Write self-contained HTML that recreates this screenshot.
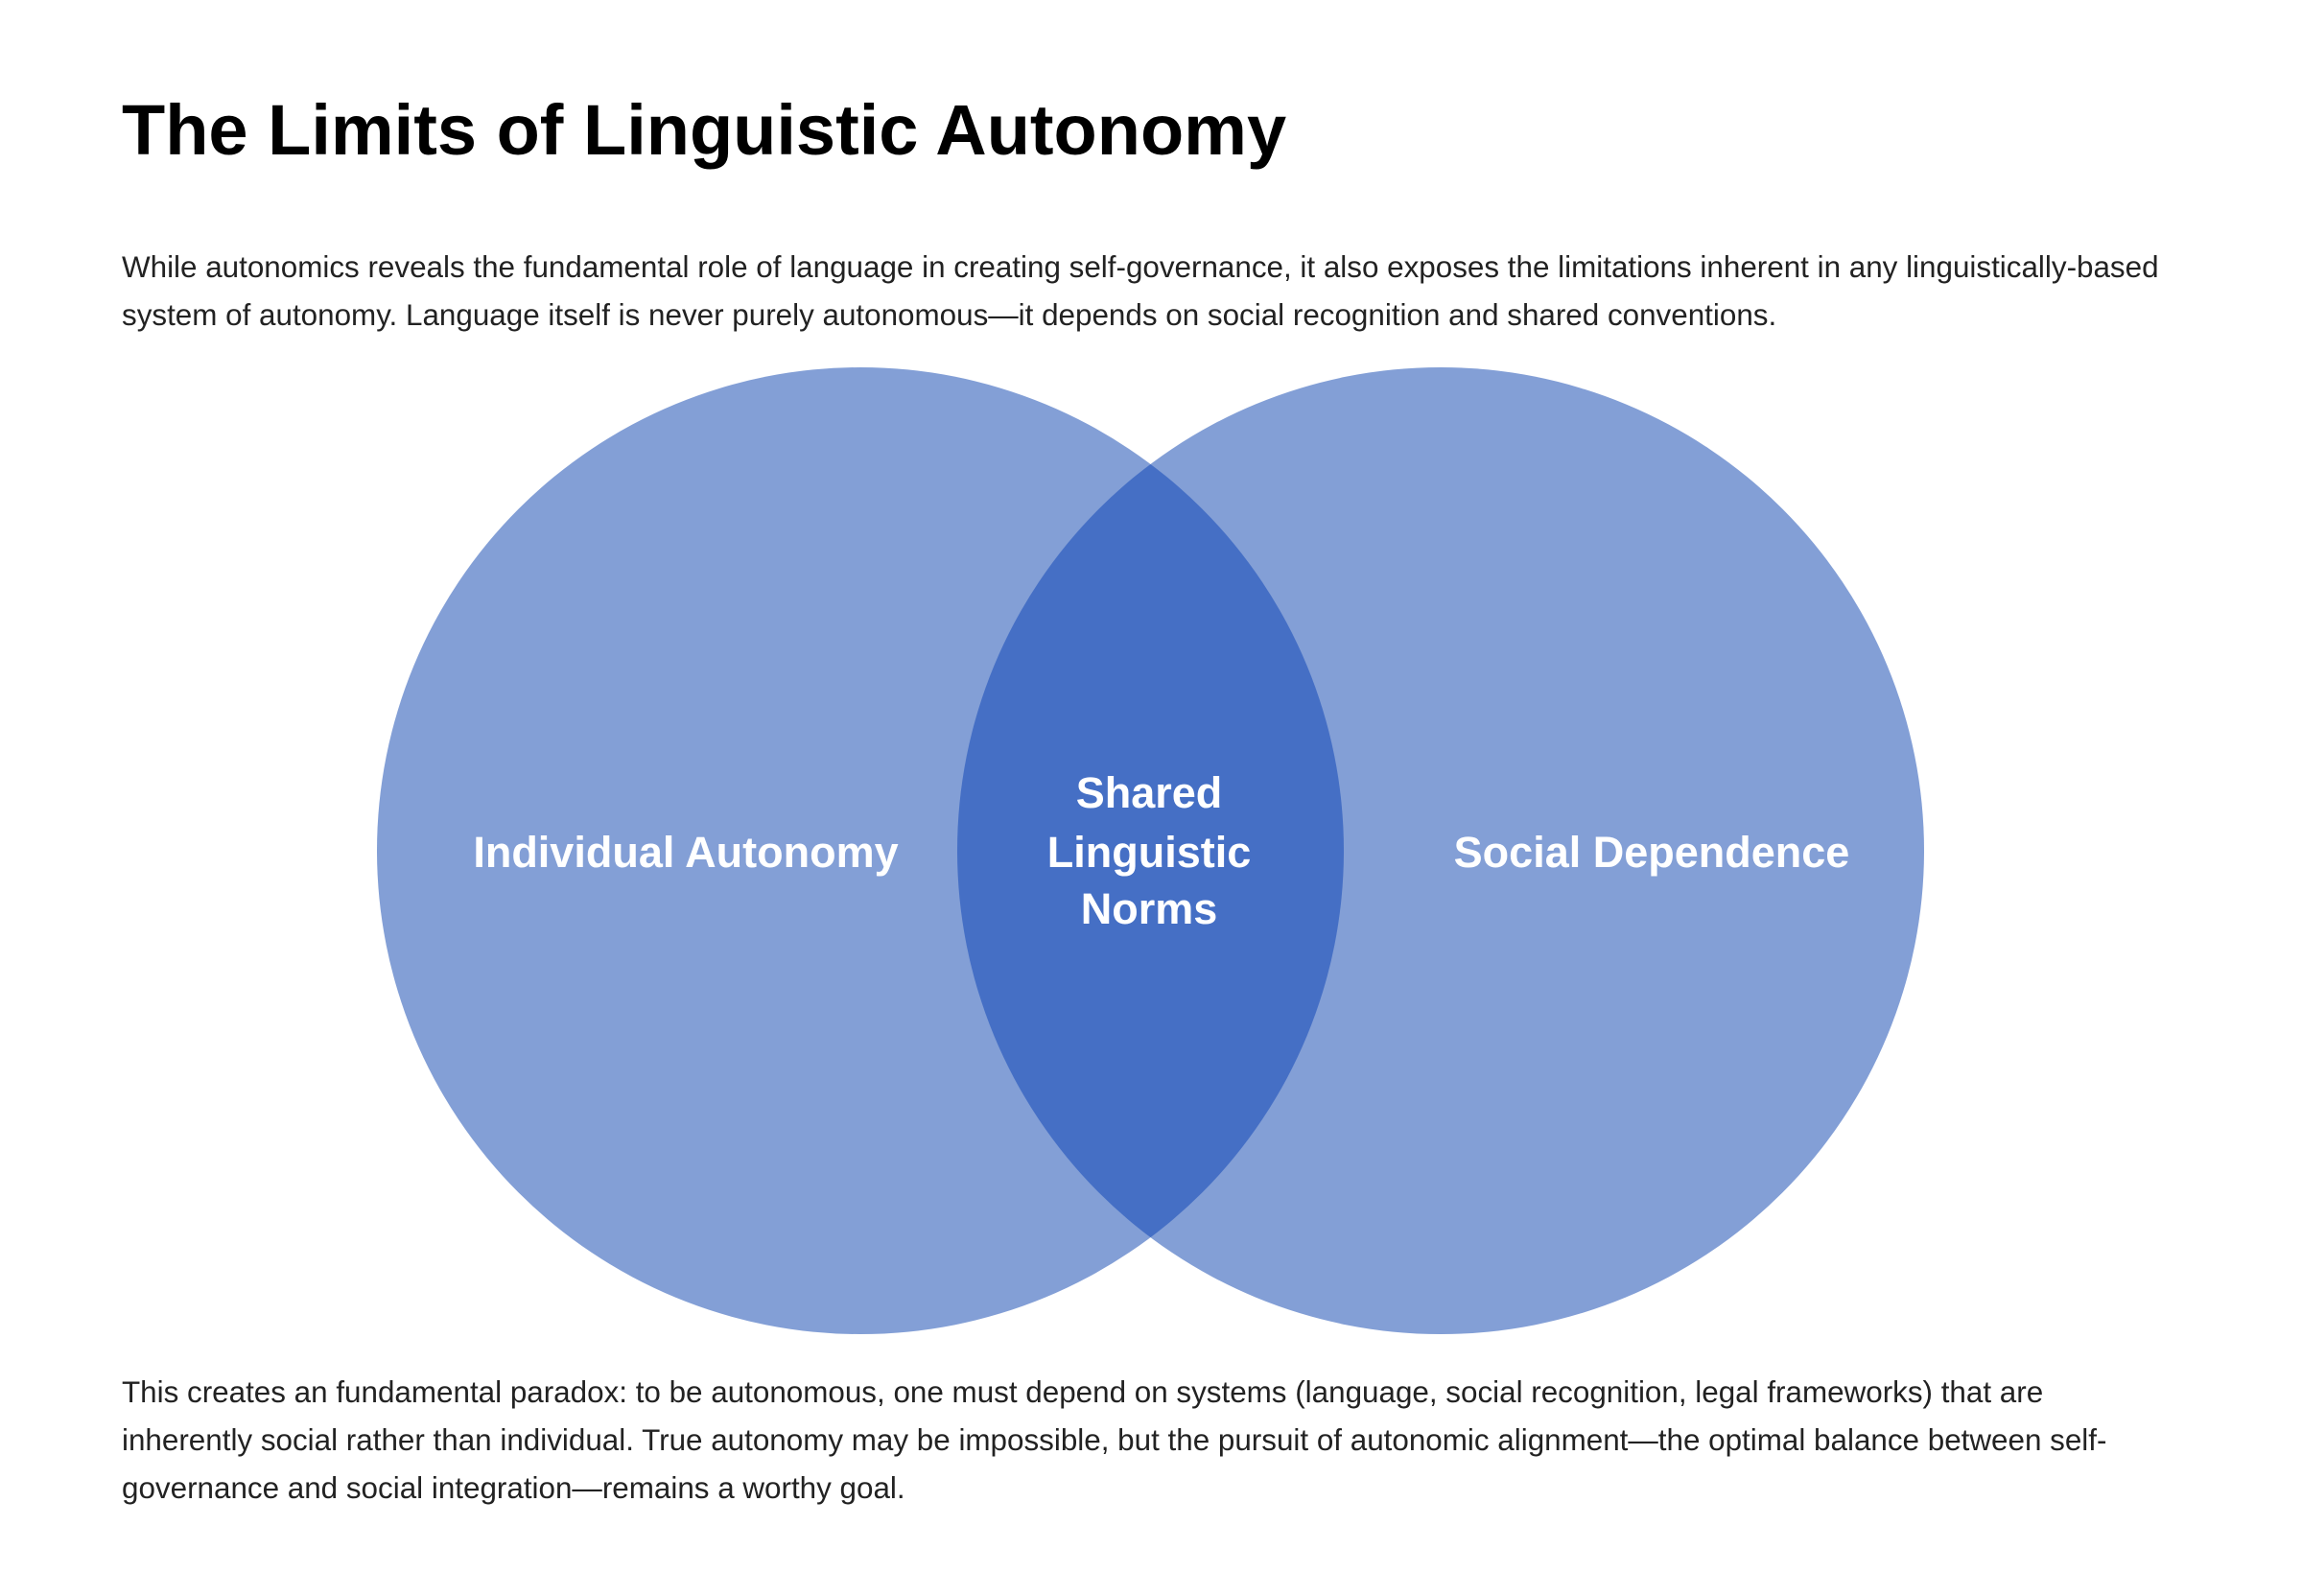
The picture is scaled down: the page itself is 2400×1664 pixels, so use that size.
<!DOCTYPE html>
<html><head><style>
body{margin:0;width:2400px;height:1664px;background:#fff;font-family:"Liberation Sans",Arial,sans-serif;position:relative;overflow:hidden}
.t{position:absolute;left:127px;white-space:nowrap}
h1{position:absolute;left:127px;top:86px;margin:0;font-size:74px;font-weight:bold;color:#000;line-height:100px}
.p{font-size:31.4px;color:#222;line-height:50px}
</style></head><body>
<h1>The Limits of Linguistic Autonomy</h1>
<div class="t p" style="top:254px">While autonomics reveals the fundamental role of language in creating self-governance, it also exposes the limitations inherent in any linguistically-based<br>system of autonomy. Language itself is never purely autonomous—it depends on social recognition and shared conventions.</div>
<svg style="position:absolute;left:0;top:0" width="2400" height="1664">
<defs><clipPath id="c"><circle cx="897" cy="887" r="504"/></clipPath></defs>
<circle cx="897" cy="887" r="504" fill="#839FD6"/>
<circle cx="1502" cy="887" r="504" fill="#839FD6"/>
<circle cx="1502" cy="887" r="504" fill="#456FC5" clip-path="url(#c)"/>
<g font-family="Liberation Sans, Arial, sans-serif" font-weight="bold" font-size="45" fill="#fff" text-anchor="middle">
<text x="715" y="904">Individual Autonomy</text>
<text x="1722" y="904">Social Dependence</text>
<text x="1198" y="842">Shared</text>
<text x="1198" y="904">Linguistic</text>
<text x="1198" y="963">Norms</text>
</g></svg>
<div class="t p" style="top:1427px">This creates an fundamental paradox: to be autonomous, one must depend on systems (language, social recognition, legal frameworks) that are<br>inherently social rather than individual. True autonomy may be impossible, but the pursuit of autonomic alignment—the optimal balance between self-<br>governance and social integration—remains a worthy goal.</div>
</body></html>
